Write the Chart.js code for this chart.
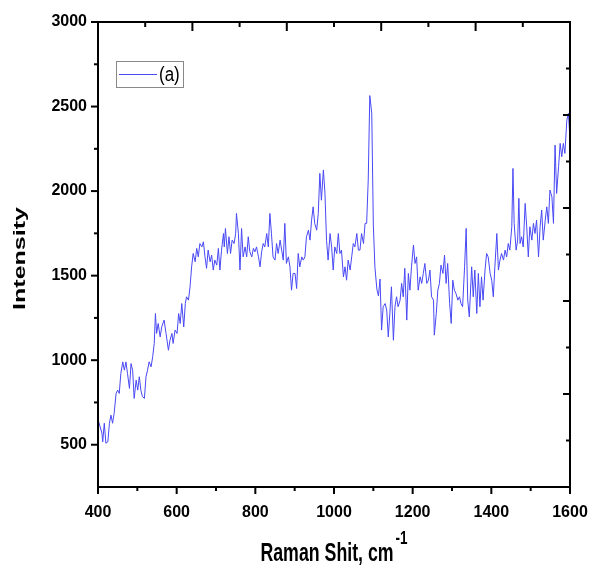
<!DOCTYPE html>
<html lang="en">
<head>
  <meta charset="UTF-8" />
  <title>Raman Spectrum</title>
  <script src="https://cdn.jsdelivr.net/npm/chart.js"></script>
  <style>
    body { margin: 0; background: #fff; }
    #wrap { width: 589px; height: 565px; }
  </style>
</head>
<body>
  <div id="wrap"><canvas id="ramanChart" width="589" height="565"></canvas></div>

  <script>
    // Raman shift (cm-1) and intensity
    const shift = [
      400, 410, 412, 416, 420, 425, 429, 433, 437, 441, 446, 450, 454, 458, 463, 467, 471, 475, 480, 484,
      488, 492, 497, 501, 505, 509, 513, 518, 522, 526, 530, 535, 539, 543, 546, 549, 553, 558, 562, 568,
      573, 579, 583, 588, 591, 596, 601, 605, 609, 613, 618, 622, 625, 630, 634, 638, 642, 647, 651, 655,
      659, 664, 668, 672, 676, 680, 685, 689, 693, 697, 702, 706, 710, 714, 719, 721, 724, 729, 733, 737,
      741, 746, 750, 752, 757, 761, 765, 769, 774, 778, 782, 786, 791, 795, 799, 803, 808, 812, 816, 820,
      824, 829, 833, 837, 841, 845, 850, 854, 858, 863, 867, 871, 875, 879, 884, 888, 892, 896, 901, 905,
      909, 913, 918, 922, 926, 930, 935, 939, 943, 947, 951, 956, 960, 964, 968, 973, 977, 981, 985, 990,
      994, 998, 1002, 1007, 1011, 1015, 1019, 1024, 1028, 1032, 1036, 1041, 1045, 1049, 1053, 1058, 1062, 1066, 1070, 1075,
      1079, 1083, 1087, 1091, 1096, 1100, 1104, 1109, 1113, 1117, 1121, 1125, 1130, 1134, 1138, 1142, 1146, 1151, 1155, 1159,
      1163, 1168, 1172, 1176, 1180, 1185, 1189, 1193, 1197, 1202, 1206, 1210, 1214, 1219, 1223, 1227, 1231, 1236, 1240, 1244,
      1248, 1253, 1255, 1260, 1264, 1268, 1272, 1277, 1281, 1285, 1289, 1294, 1298, 1302, 1306, 1310, 1315, 1319, 1323, 1327,
      1332, 1336, 1340, 1344, 1350, 1354, 1358, 1363, 1367, 1371, 1375, 1379, 1384, 1388, 1392, 1397, 1401, 1405, 1409, 1414,
      1418, 1422, 1426, 1431, 1435, 1439, 1443, 1447, 1452, 1455, 1458, 1463, 1467, 1470, 1473, 1477, 1481, 1486, 1490, 1494,
      1498, 1503, 1507, 1511, 1515, 1520, 1524, 1528, 1532, 1537, 1541, 1545, 1549, 1554, 1558, 1562, 1566, 1571, 1575, 1579,
      1583, 1587, 1592, 1596, 1600
    ];
    const intensity = [
      650, 568, 517, 627, 509, 517, 627, 675, 627, 685, 803, 823, 803, 921, 990, 941, 990, 921, 833, 980,
      941, 774, 882, 823, 902, 823, 784, 774, 902, 941, 990, 961, 1020, 1099, 1276, 1158, 1217, 1138, 1197, 1237,
      1158, 1059, 1118, 1158, 1099, 1178, 1158, 1276, 1217, 1335, 1197, 1335, 1375, 1355, 1434, 1552, 1631, 1582, 1661, 1611,
      1690, 1670, 1700, 1611, 1543, 1651, 1582, 1621, 1533, 1592, 1562, 1661, 1533, 1651, 1749, 1670, 1779, 1631, 1730, 1631,
      1710, 1690, 1749, 1868, 1749, 1533, 1779, 1611, 1670, 1611, 1730, 1641, 1611, 1661, 1641, 1670, 1611, 1552, 1641, 1690,
      1670, 1749, 1670, 1868, 1749, 1611, 1592, 1690, 1631, 1710, 1651, 1592, 1809, 1572, 1611, 1552, 1414, 1513, 1513, 1424,
      1631, 1552, 1611, 1592, 1611, 1730, 1769, 1710, 1828, 1907, 1809, 1769, 1868, 2105, 1946, 2125, 1986, 1710, 1592, 1749,
      1670, 1533, 1670, 1631, 1749, 1631, 1651, 1493, 1552, 1473, 1592, 1533, 1611, 1690, 1670, 1749, 1651, 1651, 1749, 1690,
      1809, 1809, 2065, 2565, 2460, 1800, 1550, 1420, 1380, 1480, 1178, 1316, 1335, 1296, 1138, 1276, 1434, 1118, 1316, 1375,
      1316, 1355, 1454, 1375, 1543, 1237, 1513, 1414, 1552, 1681, 1572, 1611, 1414, 1493, 1454, 1513, 1572, 1454, 1473, 1533,
      1375, 1355, 1148, 1276, 1414, 1454, 1562, 1513, 1621, 1454, 1572, 1335, 1217, 1473, 1414, 1395, 1355, 1375, 1335, 1316,
      1552, 1779, 1355, 1256, 1552, 1375, 1533, 1276, 1513, 1316, 1493, 1355, 1533, 1631, 1611, 1513, 1473, 1375, 1552, 1749,
      1533, 1592, 1631, 1592, 1651, 1611, 1690, 1651, 1789, 2134, 1809, 1651, 1710, 1957, 1690, 1730, 1670, 1927, 1789, 1611,
      1789, 1710, 1809, 1749, 1828, 1611, 1789, 1888, 1710, 1828, 1907, 1809, 2006, 1966, 1809, 2272, 1986, 2144, 2282, 2203,
      2282, 2223, 2420, 2460, 2302
    ];

    const seriesLabel = '(a)';
    const xTicks = [400, 600, 800, 1000, 1200, 1400, 1600];
    const xMinor = [500, 700, 900, 1100, 1300, 1500];
    const yTicks = [500, 1000, 1500, 2000, 2500, 3000];
    const yMinor = [750, 1250, 1750, 2250, 2750];

    const lineColor = 'rgb(72, 72, 245)';
    const FONT = '"Liberation Sans", Arial, sans-serif';

    // frame, tick marks, axis titles and the boxed legend
    const decorations = {
      id: 'decorations',
      afterDraw(chart) {
        const ctx = chart.ctx;
        const a = chart.chartArea;
        const xs = chart.scales.x, ys = chart.scales.y;
        const w = a.right - a.left, h = a.bottom - a.top;
        const seg = (x1, y1, x2, y2) => { ctx.beginPath(); ctx.moveTo(x1, y1); ctx.lineTo(x2, y2); ctx.stroke(); };

        ctx.save();
        ctx.strokeStyle = '#000';
        ctx.lineWidth = 2;
        ctx.strokeRect(a.left, a.top, w, h);

        // bottom / left ticks point outwards
        xTicks.forEach(v => { const x = xs.getPixelForValue(v); seg(x, a.bottom, x, a.bottom + 7); });
        xMinor.forEach(v => { const x = xs.getPixelForValue(v); seg(x, a.bottom, x, a.bottom + 4); });
        yTicks.forEach(v => { const y = ys.getPixelForValue(v); seg(a.left, y, a.left - 7, y); });
        yMinor.forEach(v => { const y = ys.getPixelForValue(v); seg(a.left, y, a.left - 4, y); });

        // top / right ticks point inwards, 10 divisions
        for (let i = 1; i < 10; i++) {
          const x = a.left + w * i / 10;
          seg(x, a.top, x, a.top + (i % 2 === 0 ? 9 : 5));
          const y = a.bottom - h * i / 10;
          seg(a.right, y, a.right - (i % 2 === 0 ? 7 : 4), y);
        }

        // x title with superscript
        ctx.fillStyle = '#000';
        ctx.textBaseline = 'alphabetic';
        ctx.textAlign = 'left';
        const sx = 0.71;
        ctx.font = 'bold 25px ' + FONT;
        const mainText = 'Raman Shit, cm';
        const mainW = ctx.measureText(mainText).width * sx;
        ctx.font = 'bold 19px ' + FONT;
        const supW = ctx.measureText('-1').width * sx;
        const cx = (a.left + a.right) / 2;
        const startX = cx - (mainW + 2 + supW) / 2;
        ctx.save();
        ctx.translate(startX, 561);
        ctx.scale(sx, 1);
        ctx.font = 'bold 25px ' + FONT;
        ctx.fillText(mainText, 0, 0);
        ctx.font = 'bold 19px ' + FONT;
        ctx.fillText('-1', (mainW + 2) / sx, -17);
        ctx.restore();

        // y title
        ctx.save();
        ctx.translate(20, (a.top + a.bottom) / 2 + 4);
        ctx.rotate(-Math.PI / 2);
        ctx.scale(1, 0.66);
        ctx.font = 'bold 25px ' + FONT;
        ctx.textAlign = 'center';
        ctx.textBaseline = 'middle';
        ctx.fillText('Intensity', 0, 0);
        ctx.restore();

        // legend box
        const lx = a.left + 18, ly = a.top + 39;
        ctx.lineWidth = 1;
        ctx.strokeStyle = '#888';
        ctx.strokeRect(lx + 0.5, ly + 0.5, 67, 26);
        ctx.strokeStyle = lineColor;
        seg(lx + 3, ly + 13.5, lx + 41, ly + 13.5);
        ctx.save();
        ctx.translate(lx + 43, ly + 14);
        ctx.scale(0.85, 1);
        ctx.font = '20px ' + FONT;
        ctx.textAlign = 'left';
        ctx.textBaseline = 'middle';
        ctx.fillText(chart.data.datasets[0].label, 0, 0);
        ctx.restore();

        ctx.restore();
      }
    };

    new Chart(document.getElementById('ramanChart'), {
      type: 'line',
      data: {
        datasets: [{
          label: seriesLabel,
          data: shift.map((s, i) => ({ x: s, y: intensity[i] })),
          borderColor: lineColor,
          borderWidth: 1,
          pointRadius: 0,
          tension: 0,
          fill: false
        }]
      },
      options: {
        responsive: false,
        animation: false,
        devicePixelRatio: 1,
        layout: { padding: { top: 22, right: 19, left: 0, bottom: 0 } },
        plugins: {
          legend: { display: false },
          tooltip: { enabled: false }
        },
        scales: {
          x: {
            type: 'linear',
            min: 400,
            max: 1600,
            grid: { display: false, drawTicks: false },
            border: { display: false },
            afterBuildTicks: scale => { scale.ticks = xTicks.map(v => ({ value: v })); },
            afterFit: scale => { scale.height = 78; scale.paddingLeft = 0; scale.paddingRight = 0; },
            ticks: {
              color: '#000',
              padding: 16,
              maxRotation: 0,
              callback: v => String(v),
              font: { family: FONT, size: 16, weight: 'bold' }
            }
          },
          y: {
            type: 'linear',
            min: 250,
            max: 3000,
            grid: { display: false, drawTicks: false },
            border: { display: false },
            afterBuildTicks: scale => { scale.ticks = yTicks.map(v => ({ value: v })); },
            afterFit: scale => { scale.width = 98; scale.paddingTop = 0; scale.paddingBottom = 0; },
            ticks: {
              color: '#000',
              padding: 11,
              callback: v => String(v),
              font: { family: FONT, size: 16, weight: 'bold' }
            }
          }
        }
      },
      plugins: [decorations]
    });
  </script>
</body>
</html>
